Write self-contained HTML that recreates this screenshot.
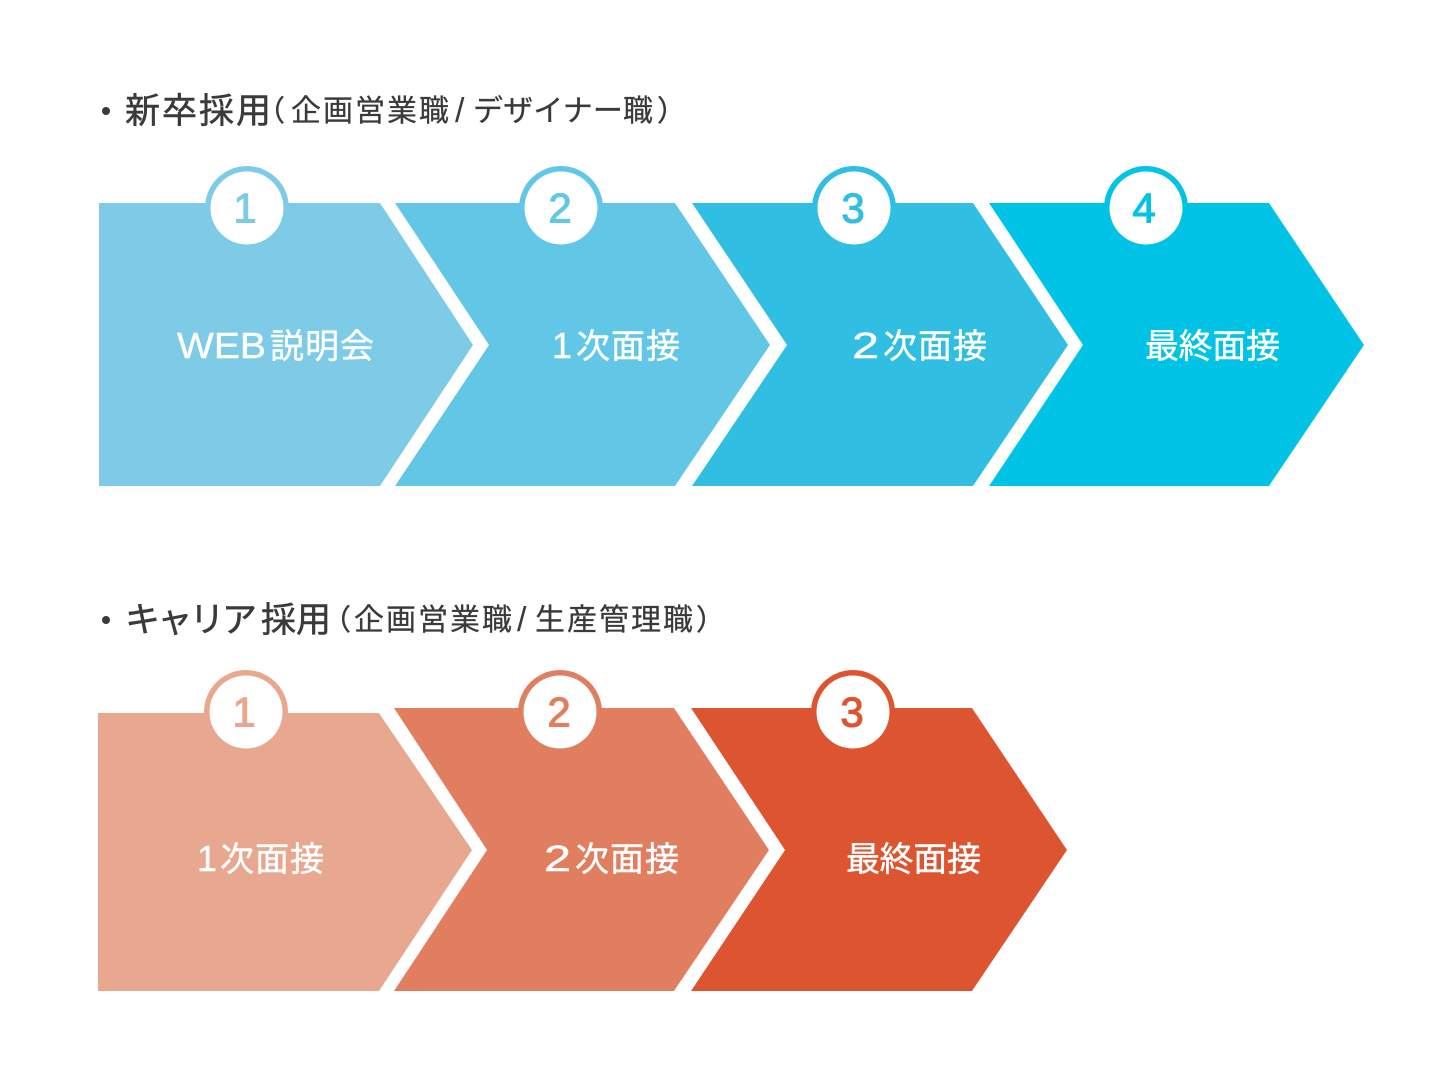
<!DOCTYPE html>
<html lang="ja">
<head>
<meta charset="utf-8">
<title>採用フロー</title>
<style>
html,body{margin:0;padding:0;background:#fff;}
svg{display:block;}
text{font-family:"Noto Sans CJK JP","Liberation Sans",sans-serif;}
.h{fill:#3a3a3a;font-weight:400;font-size:35px;stroke:#3a3a3a;stroke-width:.5px;}
.s{fill:#3a3a3a;font-size:30px;font-weight:400;stroke:#3a3a3a;stroke-width:.25px;}
.p{fill:#3a3a3a;font-size:29px;font-weight:400;stroke:#3a3a3a;stroke-width:.4px;}
.l{fill:#3a3a3a;font-size:34px;font-family:"Liberation Sans",sans-serif;}
.w{fill:#fff;font-size:34px;font-weight:400;stroke:#fff;stroke-width:.4px;}
.d{fill:#fff;font-size:36px;font-family:"Liberation Sans",sans-serif;stroke:#fff;stroke-width:.4px;}
.n{font-size:42px;text-anchor:middle;font-family:"Liberation Sans",sans-serif;stroke-width:1.1px;}
</style>
</head>
<body>
<svg width="1440" height="1080" viewBox="0 0 1440 1080" xmlns="http://www.w3.org/2000/svg">
<rect width="1440" height="1080" fill="#fff"/>

<circle cx="106" cy="111" r="4" fill="#3a3a3a"/>
<text class="h" x="125" y="123" textLength="146" lengthAdjust="spacing">新卒採用</text>
<text class="p" x="256" y="121">（</text>
<text class="s" x="291" y="121" textLength="158" lengthAdjust="spacing">企画営業職</text>
<text class="l" x="455" y="122">/</text>
<text class="s" x="473" y="121" textLength="180" lengthAdjust="spacing">デザイナー職</text>
<text class="p" x="657" y="121">）</text>

<polygon points="99,203 380,203 473,345 380,486 99,486" fill="#7dcbe7"/>
<polygon points="395,203 675,203 770,345 675,486 395,486 489,345" fill="#62c7e6"/>
<polygon points="692,203 973,203 1068,345 973,486 692,486 787,345" fill="#30bfe2"/>
<polygon points="989,203 1269,203 1364,345 1269,486 989,486 1083,345" fill="#00c3e6"/>

<circle cx="247" cy="208" r="42" fill="#7dcbe7"/><circle cx="247" cy="208" r="36.5" fill="#fff"/>
<circle cx="561" cy="208" r="42" fill="#62c7e6"/><circle cx="561" cy="208" r="36.5" fill="#fff"/>
<circle cx="854" cy="208" r="42" fill="#30bfe2"/><circle cx="854" cy="208" r="36.5" fill="#fff"/>
<circle cx="1146" cy="208" r="42" fill="#00c3e6"/><circle cx="1146" cy="208" r="36.5" fill="#fff"/>

<text class="n" x="245" y="222.500" fill="#7dcbe7" stroke="#7dcbe7">1</text>
<text class="n" x="560" y="222.500" fill="#62c7e6" stroke="#62c7e6">2</text>
<text class="n" x="853" y="222.500" fill="#30bfe2" stroke="#30bfe2">3</text>
<text class="n" x="1144" y="222.500" fill="#00c3e6" stroke="#00c3e6">4</text>

<text class="d" x="177" y="358" textLength="89" lengthAdjust="spacingAndGlyphs">WEB</text>
<text class="w" x="270" y="358" textLength="104" lengthAdjust="spacing">説明会</text>
<text class="d" x="552" y="358" textLength="20" lengthAdjust="spacingAndGlyphs">1</text>
<text class="w" x="576" y="358" textLength="104" lengthAdjust="spacing">次面接</text>
<text class="d" x="852" y="358" textLength="27" lengthAdjust="spacingAndGlyphs">2</text>
<text class="w" x="883" y="358" textLength="104" lengthAdjust="spacing">次面接</text>
<text class="w" x="1145" y="358" textLength="135" lengthAdjust="spacing">最終面接</text>

<circle cx="106" cy="620" r="4" fill="#3a3a3a"/>
<text class="h" x="125" y="632" textLength="132" lengthAdjust="spacing">キャリア</text>
<text class="h" x="261" y="632" textLength="70" lengthAdjust="spacing">採用</text>
<text class="p" x="322" y="630">（</text>
<text class="s" x="354" y="630" textLength="158" lengthAdjust="spacing">企画営業職</text>
<text class="l" x="517" y="631">/</text>
<text class="s" x="535" y="630" textLength="158" lengthAdjust="spacing">生産管理職</text>
<text class="p" x="696" y="630">）</text>

<polygon points="98,713 379,713 472,850 379,991 98,991" fill="#e7a88f"/>
<polygon points="394,708 674,708 769,850 674,991 394,991 487,850" fill="#e27e60"/>
<polygon points="691,708 972,708 1067,850 972,991 691,991 785,850" fill="#dc5530"/>

<circle cx="246" cy="712" r="42" fill="#e7a88f"/><circle cx="246" cy="712" r="36.5" fill="#fff"/>
<circle cx="560" cy="712" r="42" fill="#e27e60"/><circle cx="560" cy="712" r="36.5" fill="#fff"/>
<circle cx="853" cy="712" r="42" fill="#dc5530"/><circle cx="853" cy="712" r="36.5" fill="#fff"/>

<text class="n" x="244" y="726.500" fill="#e7a88f" stroke="#e7a88f">1</text>
<text class="n" x="559" y="726.500" fill="#e27e60" stroke="#e27e60">2</text>
<text class="n" x="852" y="726.500" fill="#dc5530" stroke="#dc5530">3</text>

<text class="d" x="197" y="871" textLength="20" lengthAdjust="spacingAndGlyphs">1</text>
<text class="w" x="220" y="871" textLength="104" lengthAdjust="spacing">次面接</text>
<text class="d" x="544" y="871" textLength="27" lengthAdjust="spacingAndGlyphs">2</text>
<text class="w" x="575" y="871" textLength="104" lengthAdjust="spacing">次面接</text>
<text class="w" x="846" y="871" textLength="135" lengthAdjust="spacing">最終面接</text>
</svg>
</body>
</html>
